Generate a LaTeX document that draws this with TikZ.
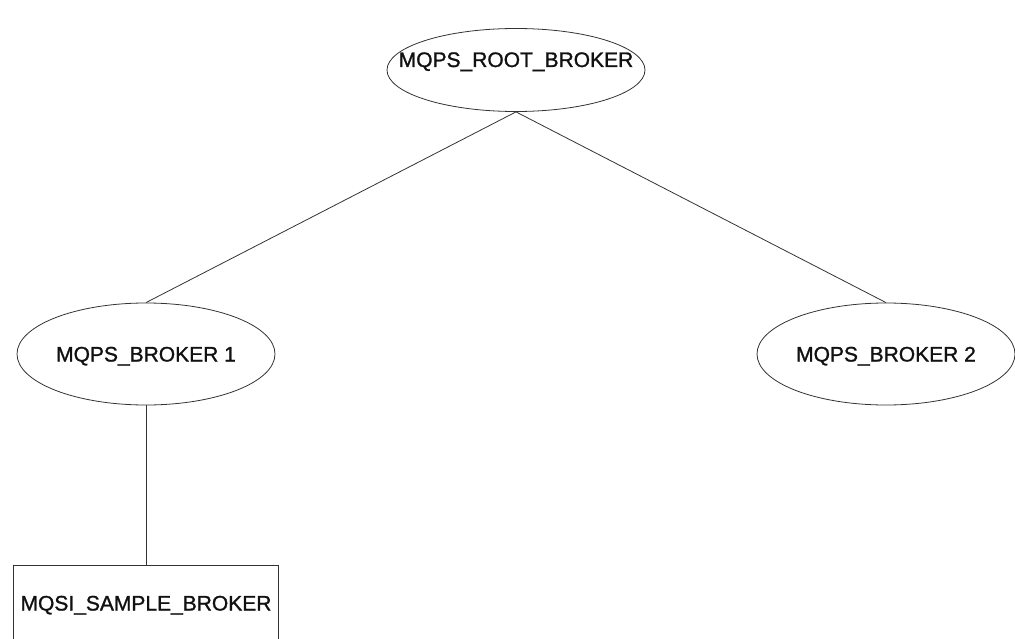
\documentclass[tikz,border=0pt]{standalone}
\usepackage{fontspec}
\setmainfont{Liberation Sans}
\newfontfamily\brokerfont{Liberation Sans}[FakeBold=1.2]
\usetikzlibrary{shapes.geometric}
\definecolor{ink}{HTML}{111111}
\definecolor{wire}{HTML}{333333}
\newcommand{\nolen}[1]{\makebox[0pt]{#1}}
\tikzset{
  broker/.style={ellipse,draw=wire,line width=0.8pt,inner sep=0pt,
                 minimum width=258pt,minimum height=102pt,
                 text height=15pt,text depth=0pt,text=ink,
                 font=\brokerfont\fontsize{21}{25}\selectfont},
  rootbroker/.style={broker,minimum height=83pt,text depth=21pt},
  sample/.style={rectangle,draw=wire,line width=0.8pt,inner sep=0pt,
                 minimum width=265pt,minimum height=76pt,
                 text height=15pt,text depth=0pt,text=ink,
                 font=\brokerfont\fontsize{21}{25}\selectfont},
  link/.style={draw=wire,line width=0.8pt}
}
\begin{document}
\begin{tikzpicture}[x=1pt,y=-1pt]
\useasboundingbox (0,0) rectangle (1015,639);
\clip (0,0) rectangle (1015,639);
\node[rootbroker] (root) at (516,70) {\nolen{MQPS\_ROOT\_BROKER}};
\node[broker] (b1) at (146,354) {\nolen{MQPS\_BROKER 1}};
\node[broker] (b2) at (886,354) {\nolen{MQPS\_BROKER 2}};
\node[sample] (sample) at (146,603) {\nolen{MQSI\_SAMPLE\_BROKER}};
\draw[link] (root.south)--(b1.north);
\draw[link] (root.south)--(b2.north);
\draw[link] (b1.south)--(sample.north);
\end{tikzpicture}
\end{document}
